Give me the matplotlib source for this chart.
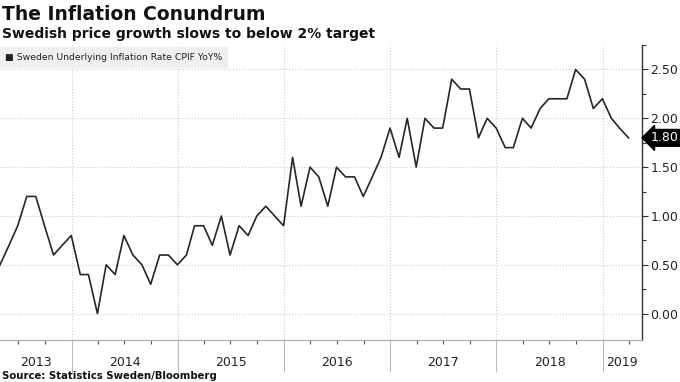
import numpy as np
import pandas as pd
import matplotlib
matplotlib.use('Agg')
import matplotlib.pyplot as plt
import matplotlib.dates as mdates
import matplotlib.transforms as mtransforms
from matplotlib.patches import Rectangle

# Sweden CPIF YoY %, month-end values (Apr 2013 - Mar 2019)
cpif_2013 = [0.5, 0.7, 0.9, 1.2, 1.2, 0.9, 0.6, 0.7, 0.8]
cpif_2014 = [0.4, 0.4, 0.0, 0.5, 0.4, 0.8, 0.6, 0.5, 0.3, 0.6, 0.6, 0.5]
cpif_2015 = [0.6, 0.9, 0.9, 0.7, 1.0, 0.6, 0.9, 0.8, 1.0, 1.1, 1.0, 0.9]
cpif_2016 = [1.6, 1.1, 1.5, 1.4, 1.1, 1.5, 1.4, 1.4, 1.2, 1.4, 1.6, 1.9]
cpif_2017 = [1.6, 2.0, 1.5, 2.0, 1.9, 1.9, 2.4, 2.3, 2.3, 1.8, 2.0, 1.9]
cpif_2018 = [1.7, 1.7, 2.0, 1.9, 2.1, 2.2, 2.2, 2.2, 2.5, 2.4, 2.1, 2.2]
cpif_2019 = [2.0, 1.9, 1.8]

values = cpif_2013 + cpif_2014 + cpif_2015 + cpif_2016 + cpif_2017 + cpif_2018 + cpif_2019
dates = pd.date_range('2013-04-30', periods=len(values), freq='ME')

years = [2013, 2014, 2015, 2016, 2017, 2018, 2019]
yticks = [0.0, 0.5, 1.0, 1.5, 2.0, 2.5]
last_label = '1.80'

title = 'The Inflation Conundrum'
subtitle = 'Swedish price growth slows to below 2% target'
legend_label = 'Sweden Underlying Inflation Rate CPIF YoY%'
source = 'Source: Statistics Sweden/Bloomberg'

narrow = ['Liberation Sans Narrow', 'DejaVu Sans']

fig = plt.figure(figsize=(6.8, 3.82), dpi=100)
ax = fig.add_axes([0, 0.110, 0.944, 0.772])

ax.plot(dates, values, color='#262626', lw=1.2, zorder=3)

xmin = dates[0]
xmax = dates[-1] + pd.Timedelta(days=46)
ax.set_xlim(xmin, xmax)
ax.set_ylim(-0.27, 2.75)

# y axis on the right
ax.yaxis.tick_right()
ax.set_yticks(yticks)
ax.set_yticklabels([f'{v:.2f}' for v in yticks])
ax.set_yticks([v + 0.25 for v in yticks], minor=True)
ax.tick_params(axis='y', which='both', direction='out', length=4, width=0.8,
               color='#333333', labelsize=9, labelcolor='#222222', pad=2)
ax.tick_params(axis='y', which='minor', length=3)
for lab in ax.get_yticklabels():
    lab.set_family(narrow)

# x axis: year boundaries + quarterly ticks
year_starts = [pd.Timestamp(f'{y}-01-01') for y in years[1:]]
ax.set_xticks(year_starts)
ax.set_xticklabels([])
quarters = [pd.Timestamp(f'{y}-{m:02d}-01') for y in years for m in (4, 7, 10)
            if xmin <= pd.Timestamp(f'{y}-{m:02d}-01') <= xmax]
ax.set_xticks(quarters, minor=True)
ax.tick_params(axis='x', which='major', direction='out', length=23, width=0.8, color='#bbbbbb')
ax.tick_params(axis='x', which='minor', direction='out', length=3, width=0.8, color='#555555')

for spine in ('top', 'left'):
    ax.spines[spine].set_visible(False)
ax.spines['bottom'].set_color('#aaaaaa')
ax.spines['bottom'].set_linewidth(0.8)
ax.spines['right'].set_color('#333333')
ax.spines['right'].set_linewidth(1.0)

ax.grid(axis='both', which='major', ls=':', color='#cccccc', lw=0.8)
ax.set_axisbelow(True)

# year labels centred on the visible part of each year
trans_x = ax.get_xaxis_transform()
for y in years:
    a = max(pd.Timestamp(f'{y}-01-01'), xmin)
    b = min(pd.Timestamp(f'{y + 1}-01-01'), xmax)
    mid = a + (b - a) / 2
    ax.text(mid, -0.075, str(y), transform=trans_x, ha='center', va='center',
            fontsize=9, color='#222222', family=narrow)

# last value tag
trans_y = mtransforms.blended_transform_factory(ax.transAxes, ax.transData)
ax.text(1.014, values[-1], last_label, transform=trans_y, ha='left', va='center',
        fontsize=9, color='white', family=narrow, clip_on=False,
        bbox=dict(boxstyle='larrow,pad=0.15', fc='black', ec='black'))

# titles, legend, source
fig.text(0.003, 0.963, title, fontsize=13.5, weight='bold', va='center', color='#111111')
fig.text(0.003, 0.911, subtitle, fontsize=10, weight='bold', va='center', color='#111111')
fig.patches.append(Rectangle((0, 0.822), 0.335, 0.055, transform=fig.transFigure,
                             fc='#efefef', ec='none', zorder=0))
fig.text(0.008, 0.849, '\u25a0 ' + legend_label, fontsize=6.7, va='center',
         color='#222222', family=narrow)
fig.text(0.003, 0.016, source, fontsize=7.3, weight='bold', va='center', color='#111111')

fig.savefig('out.png', dpi=100)
